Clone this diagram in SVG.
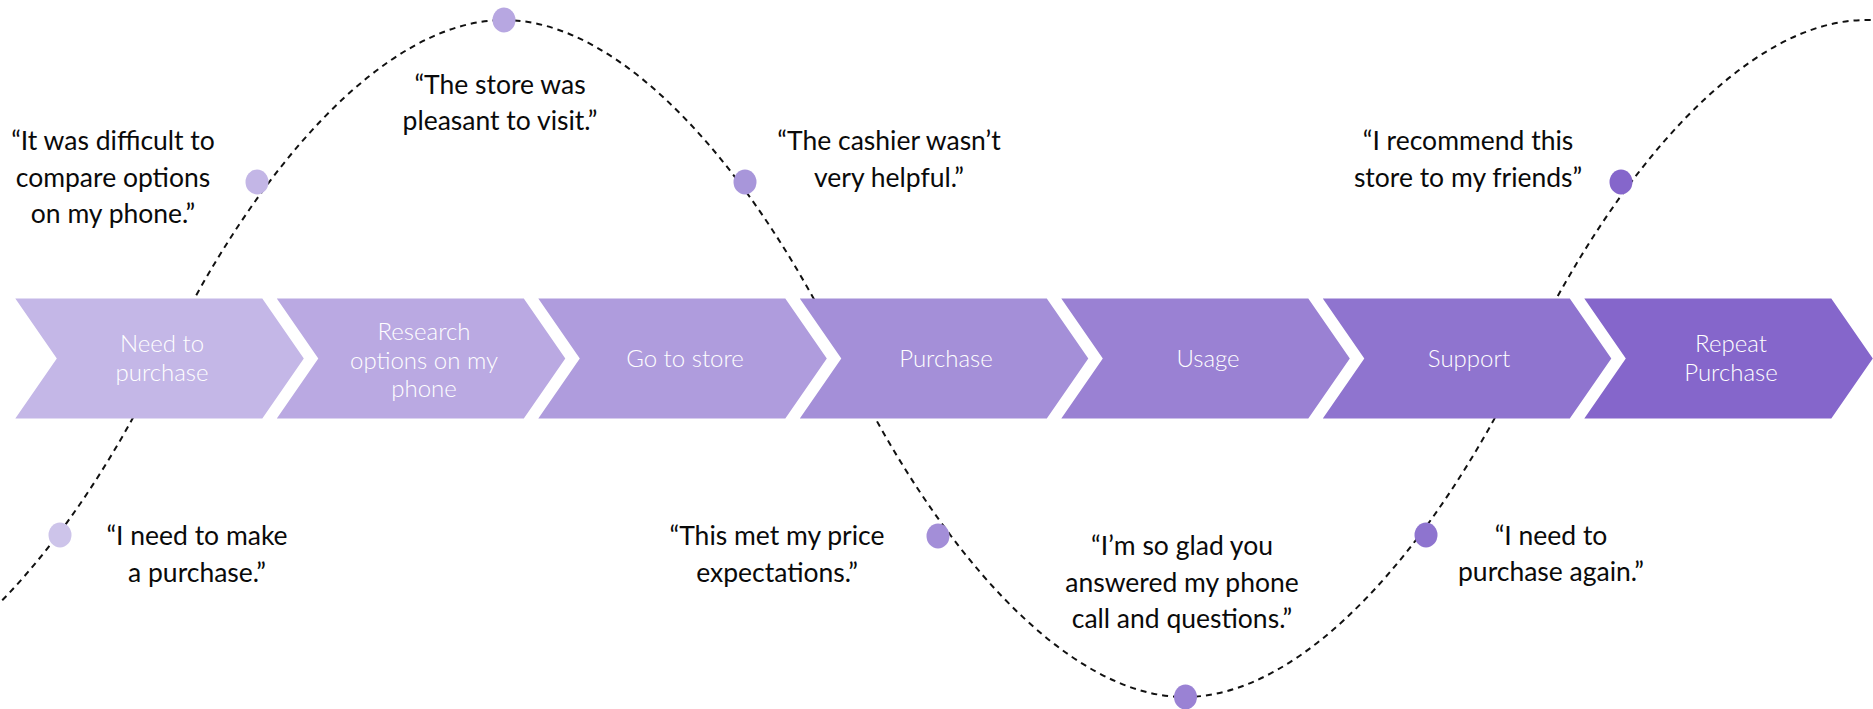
<svg xmlns="http://www.w3.org/2000/svg" width="1873" height="709" viewBox="0 0 1873 709">
<style>
.lbl{font-family:Lato,"Open Sans","Liberation Sans",sans-serif;font-weight:300;font-size:24px;fill:#ffffff;text-anchor:middle}
.q{font-family:Lato,"Open Sans","Liberation Sans",sans-serif;font-weight:400;font-size:26.5px;fill:#0a0a0a;text-anchor:middle}
.curve{fill:none;stroke:#111111;stroke-width:2;stroke-dasharray:6 5}
</style>
<defs>
<path id="chev" d="M0,298.5 H247 L288.5,358.5 L247,418.5 H0 L41.5,358.5 Z"/>
</defs>
<g id="connectors">
<path class="curve" d="M-177,697 C-57,697 73.5,545.7 163.5,358.5 C253.5,171.3 384,20 504,20 C624,20 754.5,171.3 844.5,358.5 C934.5,545.7 1065,697 1185,697 C1305,697 1435.5,545.7 1525.5,358.5 C1615.5,171.3 1746,20 1866,20 C1986,20 2000,100 2000,200"/>
</g>
<g id="stage1"><use href="#chev" x="15.3" fill="#C4B7E7"/><text class="lbl" x="162" y="352">Need to</text><text class="lbl" x="162" y="381">purchase</text></g>
<g id="stage2"><use href="#chev" x="276.8" fill="#BAA9E2"/><text class="lbl" x="424" y="340">Research</text><text class="lbl" x="424" y="368.5">options on my</text><text class="lbl" x="424" y="397">phone</text></g>
<g id="stage3"><use href="#chev" x="538.3" fill="#AF9CDD"/><text class="lbl" x="685" y="367">Go to store</text></g>
<g id="stage4"><use href="#chev" x="799.8" fill="#A48FD8"/><text class="lbl" x="946" y="367">Purchase</text></g>
<g id="stage5"><use href="#chev" x="1061.3" fill="#9A81D3"/><text class="lbl" x="1208" y="367">Usage</text></g>
<g id="stage6"><use href="#chev" x="1322.8" fill="#8F74CF"/><text class="lbl" x="1469" y="367">Support</text></g>
<g id="stage7"><use href="#chev" x="1584.3" fill="#8566CB"/><text class="lbl" x="1731" y="352">Repeat</text><text class="lbl" x="1731" y="381">Purchase</text></g>
<g id="q1"><ellipse cx="257" cy="182" rx="11.5" ry="12.5" fill="#C3B6E6"/><text class="q" x="113" y="150">“It was difficult to</text><text class="q" x="113" y="187">compare options</text><text class="q" x="113" y="223">on my phone.”</text></g>
<g id="q2"><ellipse cx="504" cy="20" rx="11.5" ry="12.5" fill="#B7A7E1"/><text class="q" x="500" y="94">“The store was</text><text class="q" x="500" y="130">pleasant to visit.”</text></g>
<g id="q3"><ellipse cx="745" cy="182" rx="11.5" ry="12.5" fill="#A896DA"/><text class="q" x="889" y="150">“The cashier wasn’t</text><text class="q" x="889" y="187">very helpful.”</text></g>
<g id="q4"><ellipse cx="1621" cy="182" rx="11.5" ry="12.5" fill="#8566CB"/><text class="q" x="1468" y="150">“I recommend this</text><text class="q" x="1468" y="187">store to my friends”</text></g>
<g id="q5"><ellipse cx="60" cy="535" rx="11.5" ry="12.5" fill="#CDC4EA"/><text class="q" x="197" y="545">“I need to make</text><text class="q" x="197" y="582">a purchase.”</text></g>
<g id="q6"><ellipse cx="938" cy="536" rx="11.5" ry="12.5" fill="#A38ED8"/><text class="q" x="777" y="545">“This met my price</text><text class="q" x="777" y="582">expectations.”</text></g>
<g id="q7"><ellipse cx="1185.5" cy="697" rx="11.5" ry="12.5" fill="#9A82D4"/><text class="q" x="1182" y="555">“I’m so glad you</text><text class="q" x="1182" y="592">answered my phone</text><text class="q" x="1182" y="628">call and questions.”</text></g>
<g id="q8"><ellipse cx="1426" cy="535" rx="11.5" ry="12.5" fill="#8E74CF"/><text class="q" x="1551" y="545">“I need to</text><text class="q" x="1551" y="581">purchase again.”</text></g>
</svg>
